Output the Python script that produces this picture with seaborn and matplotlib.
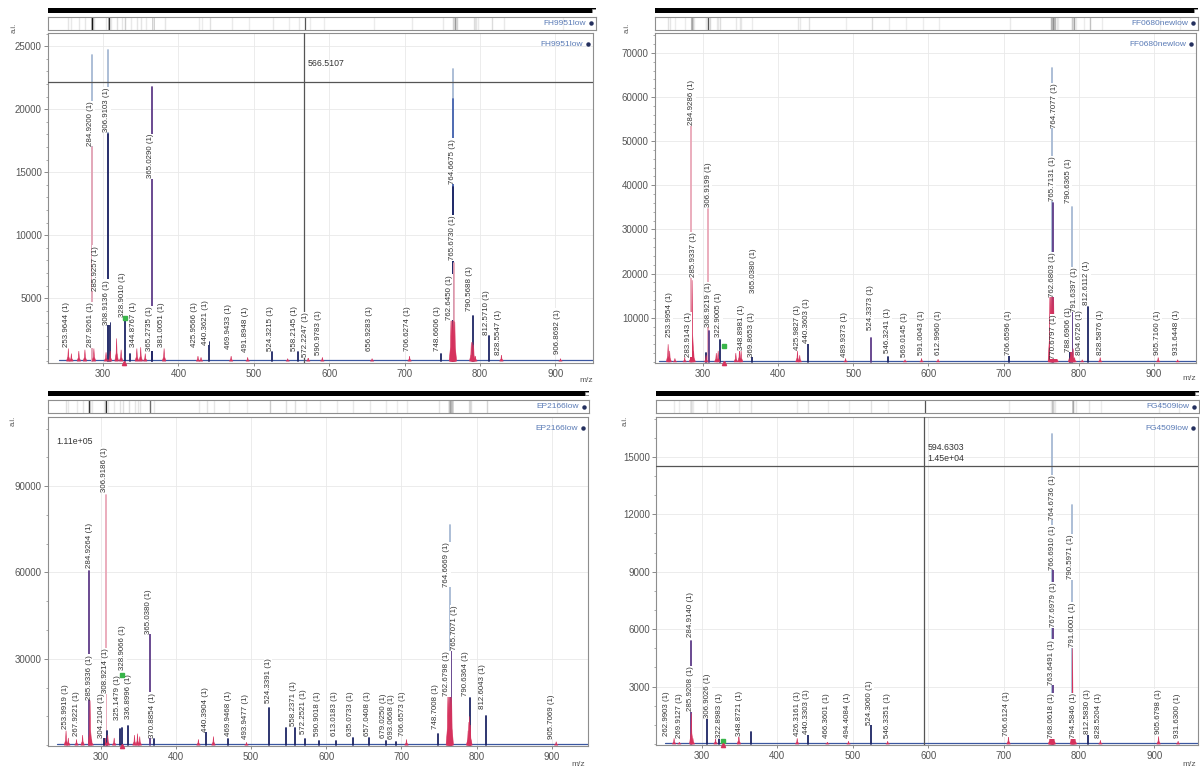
import matplotlib

matplotlib.use("Agg")
import matplotlib.pyplot as plt
import numpy as np
import pandas as pd
import seaborn as sns
from matplotlib.patches import Rectangle
from matplotlib.ticker import FixedLocator, FuncFormatter, MultipleLocator

sns.set_style("white")
plt.rcParams["font.family"] = ["Liberation Sans", "DejaVu Sans"]

# ---- FH9951low (oben links) ----
FH_MZ = [253.96, 258.0, 267.9, 276.0, 284.92, 284.92, 287.9, 304.0, 306.91, 306.91,
         308.91, 309.5, 318.0, 324.0, 328.90, 336.0, 344.88, 350.0, 356.0, 365.03,
         365.27, 381.01, 425.96, 430.0, 440.36, 469.94, 491.89, 524.32, 545.0, 558.21,
         572.22, 590.98, 656.93, 706.63, 748.66, 761.6, 762.65, 763.6, 764.67, 764.67,
         764.67, 764.67, 765.67, 765.7, 766.7, 788.6, 790.57, 790.6, 791.6, 794.0,
         812.57, 828.55, 906.87]
FH_INT = [1000, 600, 800, 900, 24300, 17000, 1000, 700, 24700, 18000,
          3000, 800, 1800, 900, 3400, 600, 1000, 1100, 600, 21800,
          800, 1000, 400, 300, 1500, 400, 300, 700, 200, 700,
          300, 300, 200, 400, 600, 3200, 3200, 3200, 23200, 20800,
          13800, 3200, 7800, 3200, 3100, 1500, 3600, 1500, 1300, 400,
          2000, 500, 200]
FH_COL = ["red", "red", "red", "red", "light", "pink", "red", "red", "light", "navy",
          "navy", "red", "red", "red", "navy", "navy", "red", "red", "red", "purple",
          "navy", "red", "red", "red", "navy", "red", "red", "navy", "red", "navy",
          "red", "red", "red", "red", "navy", "red", "red", "red", "light", "blue",
          "navy", "red", "pink", "red", "red", "red", "navy", "red", "red", "red",
          "navy", "red", "red"]
FH_LAB = ["253.9644 (1)", "287.9261 (1)", "285.9257 (1)", "284.9200 (1)", "306.9103 (1)",
          "308.9136 (1)", "328.9010 (1)", "344.8767 (1)", "365.2735 (1)", "365.0290 (1)",
          "381.0051 (1)", "425.9566 (1)", "440.3621 (1)", "469.9433 (1)", "491.8948 (1)",
          "524.3215 (1)", "558.2145 (1)", "572.2247 (1)", "590.9783 (1)", "656.9283 (1)",
          "706.6274 (1)", "748.6606 (1)", "762.6450 (1)", "765.6730 (1)", "764.6675 (1)",
          "790.5688 (1)", "812.5710 (1)", "828.5547 (1)", "906.8692 (1)"]
FH_LAB_X = [251, 283.5, 290, 284, 305, 304, 325.5, 340.5, 362, 362.5,
            377.5, 422, 435.5, 467, 489, 522, 554, 569, 585.5, 654,
            703.5, 744, 759, 763.5, 764, 786, 808.5, 824, 902.5]
FH_LAB_Y = [1100, 1100, 5600, 17100, 18200, 2900, 3500, 1100, 800, 14500,
            1100, 1100, 1300, 1000, 700, 800, 800, 300, 500, 800,
            800, 800, 3300, 8000, 14100, 4000, 2100, 500, 600]

# ---- FF0680newlow (oben rechts) ----
FF_MZ = [253.96, 256.0, 263.0, 276.0, 283.91, 284.93, 285.93, 287.9, 304.0, 304.5,
         306.92, 308.92, 318.0, 320.5, 322.90, 344.0, 348.89, 351.0, 365.04, 425.98,
         429.0, 440.36, 489.94, 524.34, 546.32, 569.01, 591.00, 612.99, 706.66, 761.7,
         762.68, 763.7, 764.71, 764.7, 765.71, 765.7, 766.7, 768.7, 770.68, 788.69,
         788.69, 789.6, 790.64, 790.64, 791.64, 792.6, 794.6, 804.67, 812.61, 828.59,
         905.72, 931.64]
FF_INT = [4000, 2500, 800, 1000, 1500, 53400, 18500, 2500, 2000, 1500,
          34700, 7000, 2000, 2500, 5000, 2000, 3000, 2500, 1000, 2500,
          1500, 4000, 800, 5500, 1000, 500, 800, 600, 1300, 15500,
          15500, 15500, 66500, 15500, 36000, 15500, 15000, 3000, 1500, 3800,
          3800, 3800, 35000, 3800, 21000, 3000, 1000, 500, 12500, 1000,
          1000, 500]
FF_COL = ["red", "red", "red", "red", "red", "pink", "red", "red", "navy", "red",
          "pink", "purple", "red", "red", "navy", "red", "red", "red", "navy", "red",
          "red", "navy", "red", "purple", "navy", "red", "red", "red", "navy", "red",
          "red", "red", "light", "red", "purple", "red", "red", "red", "red", "navy",
          "red", "red", "light", "red", "purple", "red", "red", "red", "navy", "red",
          "red", "red"]
FF_LAB = ["253.9954 (1)", "283.9143 (1)", "285.9337 (1)", "284.9286 (1)", "306.9199 (1)",
          "308.9219 (1)", "322.9005 (1)", "348.8981 (1)", "369.8653 (1)", "365.0380 (1)",
          "425.9827 (1)", "440.3603 (1)", "489.9373 (1)", "524.3373 (1)", "546.3241 (1)",
          "569.0145 (1)", "591.0043 (1)", "612.9960 (1)", "706.6596 (1)", "762.6803 (1)",
          "770.6797 (1)", "765.7131 (1)", "764.7077 (1)", "788.6906 (1)", "791.6397 (1)",
          "790.6365 (1)", "804.6726 (1)", "812.6112 (1)", "828.5876 (1)", "905.7160 (1)",
          "931.6448 (1)"]
FF_LAB_X = [255.5, 281, 288, 285.5, 307.5, 307.5, 321.5, 351, 364.5, 367,
            425.5, 438, 489, 523, 546, 568.5, 591.5, 613, 706, 765.5,
            767, 764.5, 767.5, 786, 795, 786, 801, 811, 829, 905,
            930.5]
FF_LAB_Y = [5700, 1100, 19200, 53600, 35000, 7900, 5700, 2600, 1100, 15500,
            2700, 4200, 1000, 7200, 2000, 1100, 1500, 1500, 1500, 14700,
            750, 36500, 53000, 2300, 11300, 36000, 1500, 12800, 1500, 1500,
            1500]

# ---- EP2166low (unten links) ----
EP_MZ = [253.99, 257.0, 267.92, 276.0, 284.93, 285.93, 288.0, 304.21, 306.0, 306.92,
         308.92, 309.5, 318.0, 325.15, 328.91, 336.89, 345.0, 349.0, 352.0, 365.04,
         370.89, 430.0, 440.39, 450.0, 469.95, 493.95, 524.34, 546.3, 558.24, 572.25,
         590.90, 613.02, 635.07, 657.04, 679.03, 693.07, 706.66, 748.70, 761.7, 762.68,
         763.7, 764.67, 764.7, 765.71, 765.7, 766.7, 788.6, 789.6, 790.64, 790.6,
         791.6, 812.60, 905.71]
EP_INT = [5000, 2500, 2000, 3500, 60500, 15500, 2000, 2500, 3000, 87000,
          5000, 3500, 2500, 5500, 6000, 6500, 3500, 4000, 3000, 38500,
          2000, 2000, 4500, 3000, 2000, 1000, 13000, 6000, 6000, 2000,
          1500, 1500, 2500, 2500, 1500, 1000, 2000, 4000, 17000, 17000,
          17000, 76500, 17000, 33000, 17000, 16500, 5000, 8000, 16500, 10000,
          7000, 10000, 1200]
EP_COL = ["red", "red", "red", "red", "purple", "red", "red", "navy", "red", "pink",
          "navy", "red", "red", "navy", "navy", "navy", "red", "red", "red", "purple",
          "navy", "red", "navy", "red", "navy", "red", "navy", "navy", "navy", "navy",
          "navy", "navy", "navy", "navy", "navy", "navy", "red", "navy", "red", "red",
          "red", "light", "red", "purple", "red", "red", "red", "red", "navy", "red",
          "red", "navy", "red"]
EP_LAB = ["253.9919 (1)", "267.9221 (1)", "285.9336 (1)", "284.9264 (1)", "304.2104 (1)",
          "308.9214 (1)", "306.9186 (1)", "325.1479 (1)", "328.9066 (1)", "336.8996 (1)",
          "365.0380 (1)", "370.8854 (1)", "440.3904 (1)", "469.9468 (1)", "493.9477 (1)",
          "524.3391 (1)", "558.2371 (1)", "572.2521 (1)", "590.9018 (1)", "613.0183 (1)",
          "635.0733 (1)", "657.0408 (1)", "679.0250 (1)", "693.0668 (1)", "706.6573 (1)",
          "748.7008 (1)", "762.6798 (1)", "765.7071 (1)", "764.6669 (1)", "790.6364 (1)",
          "812.6043 (1)", "905.7069 (1)"]
EP_LAB_X = [253, 268.5, 284.7, 284.7, 301.5, 306.6, 305, 322, 329.5, 337,
            364.2, 369.3, 439, 469.6, 492.6, 523, 556, 570, 588.3, 611.3,
            631.6, 654.6, 676, 687.2, 701.4, 744.7, 760, 770, 760, 785.5,
            807.4, 900]
EP_LAB_Y = [5500, 3200, 15800, 61500, 2600, 18000, 88000, 8900, 26100, 9000,
            38700, 2600, 4600, 3200, 2100, 14700, 6600, 3800, 3200, 3200,
            3200, 3200, 2600, 2100, 3200, 5500, 17000, 33000, 55000, 17000,
            12400, 2100]

# ---- FG4509low (unten rechts) ----
FG_MZ = [262.99, 269.91, 284.91, 285.93, 288.0, 306.90, 318.0, 322.90, 348.87, 365.0,
         426.32, 440.33, 466.36, 494.41, 524.31, 546.34, 706.61, 761.7, 762.7, 763.65,
         764.67, 764.7, 765.69, 765.7, 766.7, 790.60, 790.6, 791.60, 793.0, 794.58,
         812.58, 828.52, 905.68, 931.63]
FG_INT = [300, 100, 5400, 1600, 300, 1300, 300, 300, 500, 650,
          300, 800, 100, 150, 1000, 150, 400, 500, 600, 600,
          16200, 600, 9300, 600, 500, 12500, 500, 5000, 400, 500,
          800, 200, 400, 150]
FG_COL = ["red", "red", "purple", "red", "red", "navy", "red", "navy", "red", "navy",
          "red", "navy", "red", "red", "navy", "red", "red", "red", "red", "red",
          "light", "red", "purple", "red", "red", "light", "red", "red", "red", "red",
          "navy", "red", "red", "red"]
FG_LAB = ["262.9903 (1)", "269.9127 (1)", "284.9140 (1)", "285.9208 (1)", "306.9026 (1)",
          "322.8983 (1)", "348.8721 (1)", "426.3161 (1)", "440.3303 (1)", "466.3601 (1)",
          "494.4084 (1)", "524.3060 (1)", "546.3351 (1)", "706.6124 (1)", "768.0618 (1)",
          "763.6491 (1)", "767.6979 (1)", "766.6910 (1)", "764.6736 (1)", "791.6001 (1)",
          "790.5971 (1)", "794.5846 (1)", "812.5830 (1)", "828.5204 (1)", "905.6798 (1)",
          "931.6300 (1)"]
FG_LAB_X = [253, 269.6, 284.8, 284.8, 307.6, 322.8, 349.6, 426.6, 439.2, 465.6,
            492.4, 522.8, 546.6, 703.5, 764.3, 764.3, 766.5, 764.5, 764.5, 791.1,
            789.5, 793.5, 811.1, 826.6, 905, 930.4]
FG_LAB_Y = [400, 300, 5600, 1700, 1350, 300, 400, 400, 500, 300,
            300, 1000, 300, 400, 300, 3100, 6100, 9100, 11700, 5050,
            8600, 300, 500, 300, 500, 300]

SAMPLES = ["FH9951low", "FF0680newlow", "EP2166low", "FG4509low"]
GREEN_MZ = [328.9, 328.0, 328.9, 328.0]
GREEN_INT = [3400, 3500, 24500, 150]
CURSOR_MZ = [566.51, None, None, 594.63]
CURSOR_INT = [22150, None, None, 14500]

COLORS = {"red": "#d6325d", "pink": "#e9a7b7", "light": "#a6b9d3", "blue": "#4765b0",
          "purple": "#5e3c88", "navy": "#1e2564"}
W, H = 1200, 771


def px_rect(l, r, t, b):
    return [l / W, 1 - b / H, (r - l) / W, (b - t) / H]


def draw_panel(fig, lay, name, mz, inten, col, lab, lab_x, lab_y, xlim, ylim,
               yticks, yminor, green, cursor=None, notes=()):
    assert len(mz) == len(inten) == len(col)
    assert len(lab) == len(lab_x) == len(lab_y)
    l, r, t, b = lay["main"]
    ax = fig.add_axes(px_rect(l, r, t, b))
    df = pd.DataFrame({"mz": mz, "int": inten, "col": col})
    df = df.sort_values("int", ascending=False).reset_index(drop=True)

    # Basislinie
    sns.lineplot(x=[min(mz) - 12, xlim[1]], y=[ylim[1] * 0.004] * 2, color="#3b57a0",
                 lw=0.9, estimator=None, sort=False, ax=ax, zorder=1.5)
    for rank, row in df.iterrows():
        z = 2 + rank * 0.01
        c = COLORS[row["col"]]
        if row["col"] == "red":
            xs = [row["mz"] - 2.4, row["mz"] - 0.6, row["mz"], row["mz"] + 0.6, row["mz"] + 2.4]
            ys = [0, row["int"] * 0.35, row["int"], row["int"] * 0.35, 0]
            ax.fill(xs, ys, color=c, lw=0.4, ec=c, zorder=z)
        else:
            sns.lineplot(x=[row["mz"], row["mz"]], y=[0, row["int"]], color=c, lw=1.3,
                         estimator=None, sort=False, ax=ax, zorder=z)

    for txt, x, y in zip(lab, lab_x, lab_y):
        ax.text(x, y, txt, rotation=90, ha="center", va="bottom", fontsize=5.7,
                color="#333333", zorder=10,
                bbox=dict(boxstyle="square,pad=0.05", fc="white", ec="none"))

    ax.plot([green[0]], [green[1]], "s", ms=2.5, color="#39b54a", zorder=11)
    ax.plot([328.0], [ylim[0]], "^", ms=3, color="#d6325d", zorder=11, clip_on=False)

    if cursor is not None:
        ax.axvline(cursor[0], color="#555555", lw=0.9, zorder=9)
        ax.axhline(cursor[1], color="#555555", lw=0.9, zorder=9)
    for x, y, txt in notes:
        ax.text(x, y, txt, fontsize=6.3, color="#333333", ha="left", va="bottom", zorder=12)

    ax.set_xlim(xlim)
    ax.set_ylim(ylim)
    ax.xaxis.set_major_locator(MultipleLocator(100))
    ax.yaxis.set_major_locator(FixedLocator(yticks))
    ax.yaxis.set_minor_locator(MultipleLocator(yminor))
    ax.yaxis.set_major_formatter(FuncFormatter(lambda v, p: f"{v:.0f}"))
    ax.grid(True, which="major", color="#e9e9e9", lw=0.6)
    ax.set_axisbelow(True)
    ax.tick_params(axis="y", which="major", left=True, length=3, width=0.6, color="#777777",
                   labelsize=7, labelcolor="#555555", pad=1.5)
    ax.tick_params(axis="y", which="minor", left=True, length=1.6, width=0.5, color="#888888")
    ax.tick_params(axis="x", bottom=True, length=2, width=0.6, color="#777777",
                   labelsize=7, labelcolor="#555555", pad=2.5)
    for s in ax.spines.values():
        s.set_color("#8e8e8e")
        s.set_linewidth(0.8)
    ax.set_xlabel("")
    ax.set_ylabel("")
    ax.text(0.982, 0.966, name, transform=ax.transAxes, ha="right", va="center",
            fontsize=6, color="#5a7bb6")
    ax.plot([0.991], [0.966], "o", ms=2.2, color="#24305e", transform=ax.transAxes)

    # Übersichtsstreifen
    l2, r2, t2, b2 = lay["strip"]
    sax = fig.add_axes(px_rect(l2, r2, t2, b2))
    w = np.asarray(inten, dtype=float) / max(inten)
    sns.rugplot(x=mz, hue=w, palette="Greys", hue_norm=(-0.12, 0.75),
                height=1, expand_margins=False, legend=False, linewidth=1.0, ax=sax)
    if cursor is not None:
        sax.axvline(cursor[0], color="#555555", lw=0.9)
    sax.set_xlim(xlim)
    sax.set_ylim(0, 1)
    sax.set_xticks([])
    sax.set_yticks([])
    for s in sax.spines.values():
        s.set_color("#8e8e8e")
        s.set_linewidth(0.8)
    sax.text(0.982, 0.5, name, transform=sax.transAxes, ha="right", va="center",
             fontsize=6, color="#5a7bb6")
    sax.plot([0.991], [0.5], "o", ms=2.2, color="#24305e", transform=sax.transAxes)

    # Scrollbalken
    l3, r3, t3, b3 = lay["bar"]
    bax = fig.add_axes(px_rect(l3, r3, t3, b3))
    bax.set_facecolor("black")
    bax.set_xticks([])
    bax.set_yticks([])
    for s in bax.spines.values():
        s.set_visible(False)
    bax.add_patch(Rectangle((0.992, 0.1), 0.008, 0.8, transform=bax.transAxes,
                            fc="white", ec="#999999", lw=0.5))

    fig.text(lay["ai"][0] / W, 1 - lay["ai"][1] / H, "a.i.", rotation=90, fontsize=5.5,
             color="#555555", ha="center", va="center")
    fig.text(lay["mz"][0] / W, 1 - lay["mz"][1] / H, "m/z", fontsize=6, color="#555555",
             ha="center", va="center")


LAYOUT = [
    {"main": (48, 593, 33, 363), "strip": (48, 596, 17, 30), "bar": (48, 596, 8, 13),
     "ai": (14, 28), "mz": (586, 380)},
    {"main": (655, 1196, 33, 363), "strip": (655, 1198, 17, 30), "bar": (655, 1198, 8, 13),
     "ai": (627, 28), "mz": (1189, 379)},
    {"main": (48, 588, 417, 746), "strip": (48, 589, 400, 413), "bar": (48, 589, 391, 396),
     "ai": (13, 421), "mz": (578, 764)},
    {"main": (656, 1198, 417, 745), "strip": (656, 1199, 400, 413), "bar": (656, 1199, 391, 396),
     "ai": (625, 421), "mz": (1189, 764)},
]

fig = plt.figure(figsize=(12, 7.71), dpi=100)

draw_panel(fig, LAYOUT[0], SAMPLES[0], FH_MZ, FH_INT, FH_COL, FH_LAB, FH_LAB_X, FH_LAB_Y,
           (227, 950), (-150, 26050), [5000, 10000, 15000, 20000, 25000], 1000,
           (GREEN_MZ[0], GREEN_INT[0]), cursor=(CURSOR_MZ[0], CURSOR_INT[0]),
           notes=[(571, 23300, "566.5107")])
draw_panel(fig, LAYOUT[1], SAMPLES[1], FF_MZ, FF_INT, FF_COL, FF_LAB, FF_LAB_X, FF_LAB_Y,
           (236.5, 956), (-250, 74500), [10000, 20000, 30000, 40000, 50000, 60000, 70000], 2000,
           (GREEN_MZ[1], GREEN_INT[1]))
draw_panel(fig, LAYOUT[2], SAMPLES[2], EP_MZ, EP_INT, EP_COL, EP_LAB, EP_LAB_X, EP_LAB_Y,
           (230, 948), (-300, 114000), [30000, 60000, 90000], 10000,
           (GREEN_MZ[2], GREEN_INT[2]), notes=[(241, 104000, "1.11e+05")])
draw_panel(fig, LAYOUT[3], SAMPLES[3], FG_MZ, FG_INT, FG_COL, FG_LAB, FG_LAB_X, FG_LAB_Y,
           (239, 958), (-50, 17080), [3000, 6000, 9000, 12000, 15000], 1000,
           (GREEN_MZ[3], GREEN_INT[3]), cursor=(CURSOR_MZ[3], CURSOR_INT[3]),
           notes=[(599, 15250, "594.6303"), (599, 14700, "1.45e+04")])

fig.savefig("out.png", dpi=100)
plt.close(fig)
